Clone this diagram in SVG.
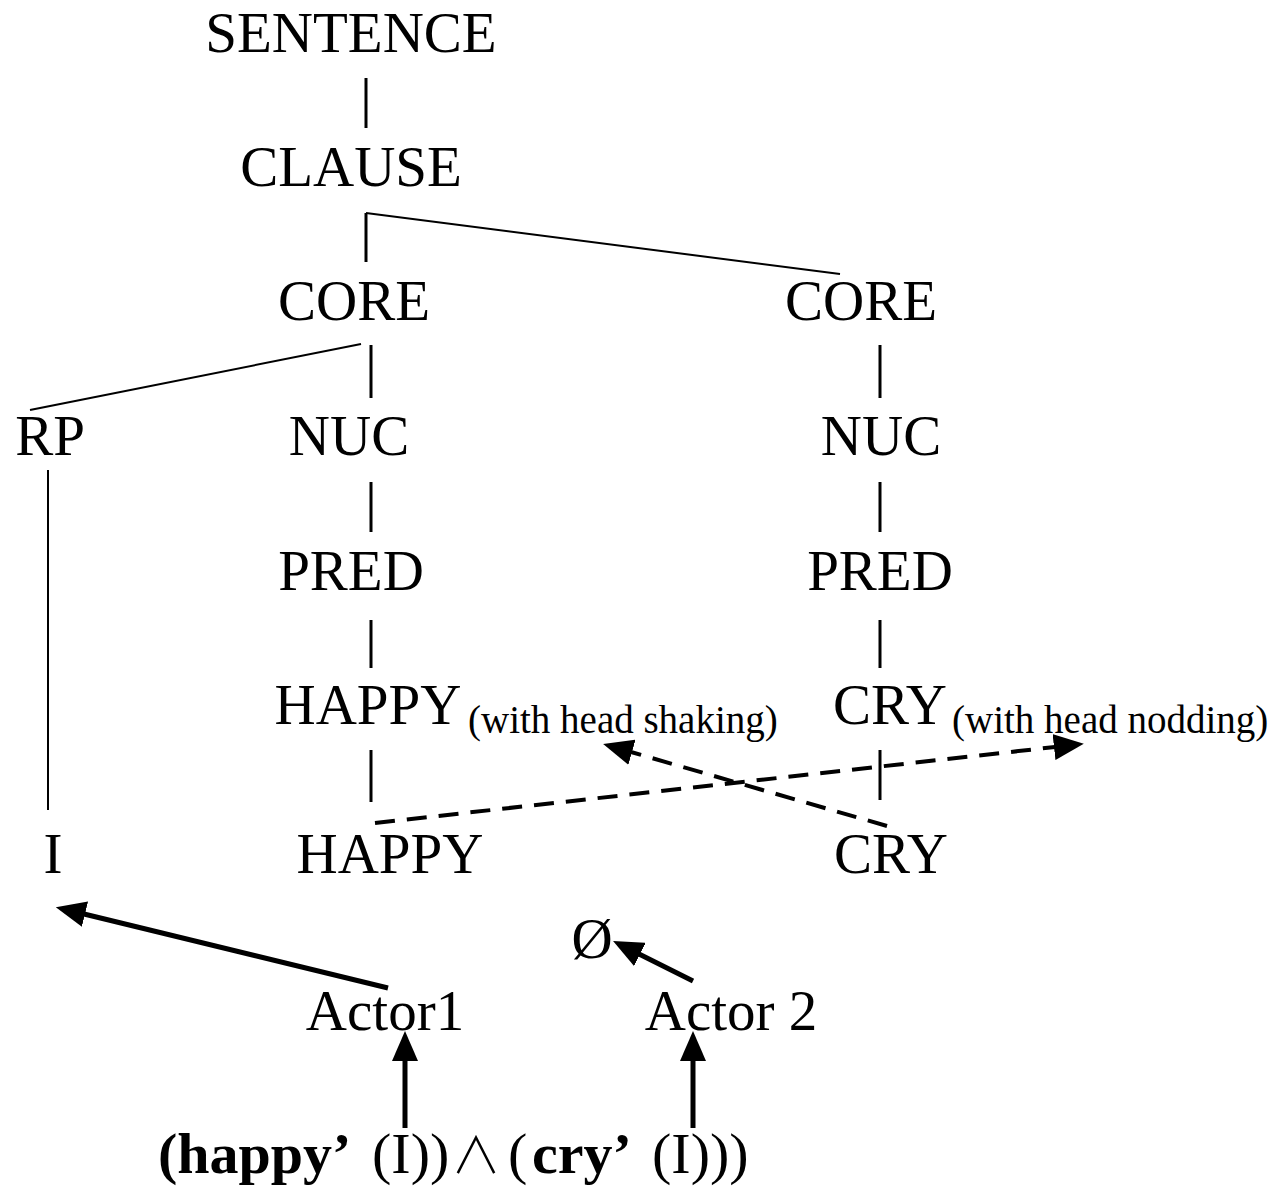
<svg xmlns="http://www.w3.org/2000/svg" width="1274" height="1195" viewBox="0 0 1274 1195">
  <style>
    text { font-family: "Liberation Serif", "Times New Roman", serif; fill: #000; }
    .lbl { font-size: 57px; text-anchor: middle; }
    .sub { font-size: 39px; }
    .f { font-size: 58px; }
    .b { font-weight: bold; }
    .and { font-family: "Noto Sans CJK SC", "Noto Sans CJK JP", sans-serif; font-weight: 300; font-size: 50px; }
    .tree { stroke: #000; stroke-width: 3; fill: none; }
    .thin { stroke: #000; stroke-width: 2; fill: none; }
    .arr { stroke: #000; stroke-width: 5; fill: none; marker-end: url(#head); }
    .dash { stroke: #000; stroke-width: 4; fill: none; stroke-dasharray: 20 12; marker-end: url(#head); }
  </style>
  <defs>
    <marker id="head" viewBox="0 0 30 26" refX="1" refY="13" markerWidth="30" markerHeight="26" markerUnits="userSpaceOnUse" orient="auto">
      <path d="M0,0 L30,13 L0,26 z" fill="#000"/>
    </marker>
  </defs>

  <rect width="1274" height="1195" fill="#fff"/>

  <!-- tree branches and mapping arrows -->
  <g id="connectors">
    <line class="tree" x1="366" y1="78" x2="366" y2="128"/>
    <line class="tree" x1="366" y1="213" x2="366" y2="262"/>
    <line class="thin" x1="366" y1="213" x2="840" y2="274"/>
    <line class="thin" x1="361" y1="344" x2="30" y2="410"/>
    <line class="tree" x1="371" y1="345" x2="371" y2="398"/>
    <line class="tree" x1="880" y1="345" x2="880" y2="398"/>
    <line class="thin" x1="48" y1="470" x2="48" y2="810"/>
    <line class="tree" x1="371" y1="482" x2="371" y2="532"/>
    <line class="tree" x1="880" y1="482" x2="880" y2="532"/>
    <line class="tree" x1="371" y1="620" x2="371" y2="668"/>
    <line class="tree" x1="880" y1="620" x2="880" y2="668"/>
    <line class="tree" x1="371" y1="750" x2="371" y2="802"/>
    <line class="tree" x1="880" y1="750" x2="880" y2="800"/>
    <!-- gesture links -->
    <line class="dash" x1="375" y1="823" x2="1055" y2="747"/>
    <line class="dash" x1="887" y1="826" x2="631" y2="752"/>
    <!-- semantic arguments to syntax -->
    <line class="arr" x1="388" y1="988" x2="84" y2="914"/>
    <line class="arr" x1="693" y1="981" x2="639" y2="954"/>
    <line class="arr" x1="405" y1="1128" x2="405" y2="1060"/>
    <line class="arr" x1="693" y1="1128" x2="693" y2="1060"/>
  </g>

  <g id="sentence"><text class="lbl" x="351" y="52">SENTENCE</text></g>
  <g id="clause"><text class="lbl" x="351" y="186">CLAUSE</text></g>
  <g id="core1"><text class="lbl" x="354" y="320">CORE</text></g>
  <g id="core2"><text class="lbl" x="861" y="320">CORE</text></g>
  <g id="rp"><text class="lbl" x="50" y="455">RP</text></g>
  <g id="nuc1"><text class="lbl" x="349" y="455">NUC</text></g>
  <g id="nuc2"><text class="lbl" x="881" y="455">NUC</text></g>
  <g id="pred1"><text class="lbl" x="351" y="590">PRED</text></g>
  <g id="pred2"><text class="lbl" x="880" y="590">PRED</text></g>
  <g id="happy-pred">
    <text class="lbl" x="368" y="724">HAPPY</text>
    <text class="sub" x="468" y="733">(with head shaking)</text>
  </g>
  <g id="cry-pred">
    <text class="lbl" x="890" y="724">CRY</text>
    <text class="sub" x="952" y="733">(with head nodding)</text>
  </g>
  <g id="i"><text class="lbl" x="53" y="873">I</text></g>
  <g id="happy"><text class="lbl" x="390" y="873">HAPPY</text></g>
  <g id="cry"><text class="lbl" x="891" y="873">CRY</text></g>
  <g id="null"><text class="lbl" x="592" y="958">Ø</text></g>
  <g id="actor1"><text class="lbl" x="385" y="1030">Actor1</text></g>
  <g id="actor2"><text class="lbl" x="731" y="1030">Actor 2</text></g>
  <g id="logical-structure">
    <text class="f" y="1173"><tspan class="b" x="158">(happy’</tspan><tspan x="372">(I))</tspan><tspan class="and" x="451">∧</tspan><tspan x="508">(</tspan><tspan class="b" x="532">cry’</tspan><tspan x="652">(I)))</tspan></text>
  </g>
</svg>
